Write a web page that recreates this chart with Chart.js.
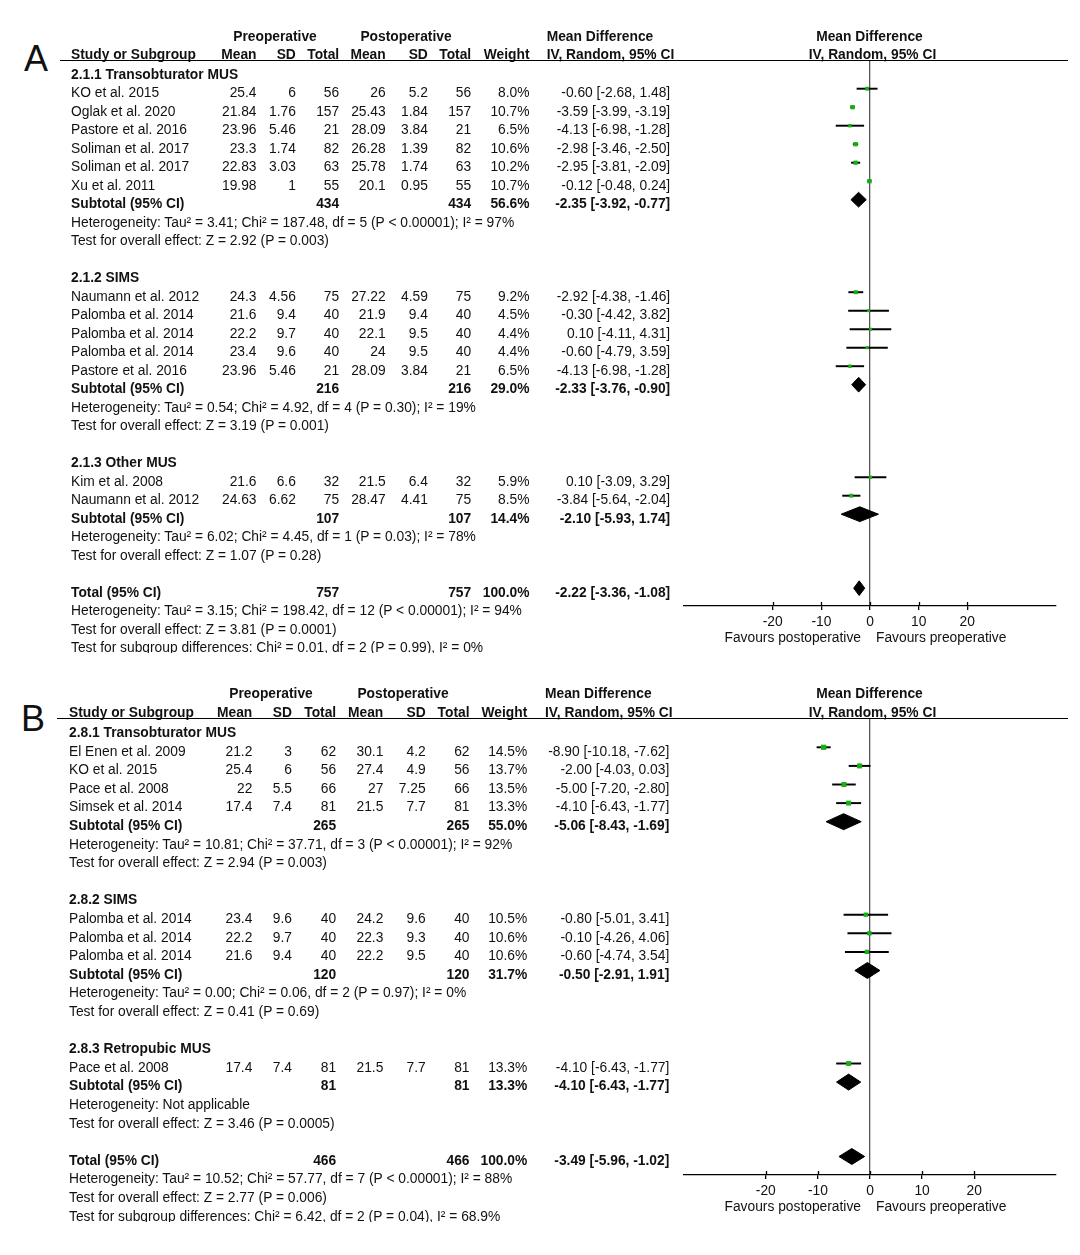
<!DOCTYPE html>
<html>
<head>
<meta charset="utf-8">
<script src="https://cdn.jsdelivr.net/npm/chart.js@4.4.1/dist/chart.umd.min.js"></script>
<style>
  html, body { margin: 0; padding: 0; background: #fff; }
  body { width: 1080px; height: 1255px; position: relative; overflow: hidden;
         font-family: "Liberation Sans", Arial, sans-serif; font-size: 13.8px; color: #111; }
  .t { position: absolute; white-space: nowrap; line-height: 16px; }
  .b { font-weight: bold; }
  .clip { position: absolute; left: 0; width: 1080px; overflow: hidden; }
  .rule { position: absolute; height: 1px; background: #000; }
  .tag { position: absolute; font-size: 36px; line-height: 36px; color: #111; }
  canvas { position: absolute; }
</style>
</head>
<body>
<div class="tag" style="left:24px;top:41px">A</div>
<div class="tag" style="left:21px;top:701px">B</div>
<canvas id="plotA"></canvas>
<canvas id="plotB"></canvas>
<script>
const xTicks = [-20, -10, 0, 10, 20];

// ---- panel A: 2.1.x ----
const groupsA = ['2.1.1 Transobturator MUS', '2.1.2 SIMS', '2.1.3 Other MUS'];
const studyA = ['KO et al. 2015', 'Oglak et al. 2020', 'Pastore et al. 2016', 'Soliman et al. 2017',
  'Soliman et al. 2017', 'Xu et al. 2011', 'Naumann et al. 2012', 'Palomba et al. 2014',
  'Palomba et al. 2014', 'Palomba et al. 2014', 'Pastore et al. 2016', 'Kim et al. 2008', 'Naumann et al. 2012'];
const groupOfA = [0, 0, 0, 0, 0, 0, 1, 1, 1, 1, 1, 2, 2];
const preMeanA = [25.4, 21.84, 23.96, 23.3, 22.83, 19.98, 24.3, 21.6, 22.2, 23.4, 23.96, 21.6, 24.63];
const preSdA = [6, 1.76, 5.46, 1.74, 3.03, 1, 4.56, 9.4, 9.7, 9.6, 5.46, 6.6, 6.62];
const preNA = [56, 157, 21, 82, 63, 55, 75, 40, 40, 40, 21, 32, 75];
const postMeanA = [26, 25.43, 28.09, 26.28, 25.78, 20.1, 27.22, 21.9, 22.1, 24, 28.09, 21.5, 28.47];
const postSdA = [5.2, 1.84, 3.84, 1.39, 1.74, 0.95, 4.59, 9.4, 9.5, 9.5, 3.84, 6.4, 4.41];
const postNA = [56, 157, 21, 82, 63, 55, 75, 40, 40, 40, 21, 32, 75];
const weightA = [8.0, 10.7, 6.5, 10.6, 10.2, 10.7, 9.2, 4.5, 4.4, 4.4, 6.5, 5.9, 8.5];
const mdA = [-0.60, -3.59, -4.13, -2.98, -2.95, -0.12, -2.92, -0.30, 0.10, -0.60, -4.13, 0.10, -3.84];
const loA = [-2.68, -3.99, -6.98, -3.46, -3.81, -0.48, -4.38, -4.42, -4.11, -4.79, -6.98, -3.09, -5.64];
const hiA = [1.48, -3.19, -1.28, -2.50, -2.09, 0.24, -1.46, 3.82, 4.31, 3.59, -1.28, 3.29, -2.04];
const subNA = [434, 216, 107];
const subWeightA = [56.6, 29.0, 14.4];
const subMdA = [-2.35, -2.33, -2.10];
const subLoA = [-3.92, -3.76, -5.93];
const subHiA = [-0.77, -0.90, 1.74];
const subHetA = ['Heterogeneity: Tau² = 3.41; Chi² = 187.48, df = 5 (P < 0.00001); I² = 97%',
  'Heterogeneity: Tau² = 0.54; Chi² = 4.92, df = 4 (P = 0.30); I² = 19%',
  'Heterogeneity: Tau² = 6.02; Chi² = 4.45, df = 1 (P = 0.03); I² = 78%'];
const subTestA = ['Test for overall effect: Z = 2.92 (P = 0.003)',
  'Test for overall effect: Z = 3.19 (P = 0.001)',
  'Test for overall effect: Z = 1.07 (P = 0.28)'];
const totalNA = 757;
const totalCiA = [-2.22, -3.36, -1.08];
const totalNotesA = ['Heterogeneity: Tau² = 3.15; Chi² = 198.42, df = 12 (P < 0.00001); I² = 94%',
  'Test for overall effect: Z = 3.81 (P = 0.0001)',
  'Test for subgroup differences: Chi² = 0.01, df = 2 (P = 0.99), I² = 0%'];

// ---- panel B: 2.8.x ----
const groupsB = ['2.8.1 Transobturator MUS', '2.8.2 SIMS', '2.8.3 Retropubic MUS'];
const studyB = ['El Enen et al. 2009', 'KO et al. 2015', 'Pace et al. 2008', 'Simsek et al. 2014',
  'Palomba et al. 2014', 'Palomba et al. 2014', 'Palomba et al. 2014', 'Pace et al. 2008'];
const groupOfB = [0, 0, 0, 0, 1, 1, 1, 2];
const preMeanB = [21.2, 25.4, 22, 17.4, 23.4, 22.2, 21.6, 17.4];
const preSdB = [3, 6, 5.5, 7.4, 9.6, 9.7, 9.4, 7.4];
const preNB = [62, 56, 66, 81, 40, 40, 40, 81];
const postMeanB = [30.1, 27.4, 27, 21.5, 24.2, 22.3, 22.2, 21.5];
const postSdB = [4.2, 4.9, 7.25, 7.7, 9.6, 9.3, 9.5, 7.7];
const postNB = [62, 56, 66, 81, 40, 40, 40, 81];
const weightB = [14.5, 13.7, 13.5, 13.3, 10.5, 10.6, 10.6, 13.3];
const mdB = [-8.90, -2.00, -5.00, -4.10, -0.80, -0.10, -0.60, -4.10];
const loB = [-10.18, -4.03, -7.20, -6.43, -5.01, -4.26, -4.74, -6.43];
const hiB = [-7.62, 0.03, -2.80, -1.77, 3.41, 4.06, 3.54, -1.77];
const subNB = [265, 120, 81];
const subWeightB = [55.0, 31.7, 13.3];
const subMdB = [-5.06, -0.50, -4.10];
const subLoB = [-8.43, -2.91, -6.43];
const subHiB = [-1.69, 1.91, -1.77];
const subHetB = ['Heterogeneity: Tau² = 10.81; Chi² = 37.71, df = 3 (P < 0.00001); I² = 92%',
  'Heterogeneity: Tau² = 0.00; Chi² = 0.06, df = 2 (P = 0.97); I² = 0%',
  'Heterogeneity: Not applicable'];
const subTestB = ['Test for overall effect: Z = 2.94 (P = 0.003)',
  'Test for overall effect: Z = 0.41 (P = 0.69)',
  'Test for overall effect: Z = 3.46 (P = 0.0005)'];
const totalNB = 466;
const totalCiB = [-3.49, -5.96, -1.02];
const totalNotesB = ['Heterogeneity: Tau² = 10.52; Chi² = 57.77, df = 7 (P < 0.00001); I² = 88%',
  'Test for overall effect: Z = 2.77 (P = 0.006)',
  'Test for subgroup differences: Chi² = 6.42, df = 2 (P = 0.04), I² = 68.9%'];

Chart.defaults.font.family = '"Liberation Sans", Arial, sans-serif';
Chart.defaults.font.size = 13.8;
Chart.defaults.color = '#111';

const GREEN = '#14b014';
const AXIS_H = 34;

// tick marks in RevMan cross the axis line, Chart.js only draws the lower half
const crossTicks = {
  id: 'crossTicks',
  afterDraw(chart) {
    const s = chart.scales.x, ctx = chart.ctx, y = chart.chartArea.bottom;
    ctx.save();
    ctx.strokeStyle = '#000';
    ctx.lineWidth = 1.3;
    s.ticks.forEach(t => {
      const x = Math.round(s.getPixelForValue(t.value)) + 0.5;
      ctx.beginPath(); ctx.moveTo(x, y - 4); ctx.lineTo(x, y); ctx.stroke();
    });
    ctx.restore();
  }
};

const fmt = v => v.toFixed(2);
const ci = (m, l, h) => fmt(m) + ' [' + fmt(l) + ', ' + fmt(h) + ']';
const pct = w => w.toFixed(1) + '%';

function put(parent, top, text, x, y, align, bold) {
  const d = document.createElement('div');
  d.className = 't' + (bold ? ' b' : '');
  d.textContent = text;
  d.style.top = (y - top - 8) + 'px';
  if (align === 'r') d.style.right = (1080 - x) + 'px';
  else if (align === 'c') { d.style.left = (x - 150) + 'px'; d.style.width = '300px'; d.style.textAlign = 'center'; }
  else d.style.left = x + 'px';
  parent.appendChild(d);
}

function buildPanel(p, L) {
  // table rows: heading, studies, subtotal, 2 notes, blank ... then total block
  const rows = [];
  p.groups.forEach((name, g) => {
    rows.push({ kind: 'head', g });
    p.groupOf.forEach((gg, i) => { if (gg === g) rows.push({ kind: 'study', i }); });
    rows.push({ kind: 'sub', g });
    rows.push({ kind: 'note', text: p.subHet[g] });
    rows.push({ kind: 'note', text: p.subTest[g] });
    rows.push({ kind: 'blank' });
  });
  rows.push({ kind: 'total' });
  p.totalNotes.forEach(t => rows.push({ kind: 'note', text: t }));

  const studyRow = [], subRow = [];
  let totalRow = 0;
  rows.forEach((r, k) => {
    if (r.kind === 'study') studyRow[r.i] = k;
    if (r.kind === 'sub') subRow[r.g] = k;
    if (r.kind === 'total') totalRow = k;
  });

  const diamond = (est, lo, hi, row) => ({
    type: 'line',
    data: [{ x: lo, y: row }, { x: est, y: row - L.dh }, { x: hi, y: row }, { x: est, y: row + L.dh }, { x: lo, y: row }],
    borderColor: '#000', backgroundColor: '#000', borderWidth: 1, fill: 'shape',
    pointRadius: 0, tension: 0, order: 2
  });

  const datasets = [
    {
      type: 'scatter',
      data: p.md.map((m, i) => ({ x: m, y: studyRow[i] })),
      pointStyle: 'rect',
      pointRadius: p.weight.map(w => (2 + 0.22 * w) / Math.SQRT2),
      backgroundColor: GREEN, borderWidth: 0, order: 0
    },
    {
      type: 'bar', indexAxis: 'y',
      data: p.lo.map((l, i) => ({ x: [l, p.hi[i]], y: studyRow[i] })),
      backgroundColor: '#000', barThickness: 1.3, order: 1
    }
  ];
  p.subMd.forEach((m, g) => datasets.push(diamond(m, p.subLo[g], p.subHi[g], subRow[g])));
  datasets.push(diamond(p.totalCi[0], p.totalCi[1], p.totalCi[2], totalRow));

  const canvas = document.getElementById(L.canvasId);
  canvas.width = 400;
  canvas.height = L.axisY - L.top + AXIS_H;
  canvas.style.left = '680px';
  canvas.style.top = L.top + 'px';

  const chart = new Chart(canvas, {
    type: 'scatter',
    data: { datasets },
    options: {
      responsive: false,
      animation: false,
      events: [],
      layout: { padding: { left: 2, right: 24, top: L.ruleY - L.top, bottom: 0 } },
      plugins: { legend: { display: false }, tooltip: { enabled: false } },
      scales: {
        x: {
          type: 'linear', min: -L.xHalf, max: L.xHalf,
          afterBuildTicks: s => { s.ticks = xTicks.map(v => ({ value: v })); },
          afterFit: s => { s.height = AXIS_H; },
          border: { display: true, color: '#000', width: 1.3 },
          grid: {
            color: c => (c.tick && c.tick.value === 0) ? '#555' : 'rgba(0,0,0,0)',
            lineWidth: 1.3, tickColor: '#000', tickLength: 4, tickWidth: 1.3
          },
          ticks: { padding: 4, maxRotation: 0, autoSkip: false }
        },
        y: {
          type: 'linear', reverse: true, display: false, offset: false,
          min: (L.ruleY - L.row0) / L.step, max: (L.axisY - L.row0) / L.step,
          grid: { offset: false }
        }
      }
    },
    plugins: [crossTicks]
  });

  // table text, placed on the same y scale as the marks
  const box = document.createElement('div');
  box.className = 'clip';
  box.style.top = L.top + 'px';
  box.style.height = (L.clipY - L.top) + 'px';
  document.body.appendChild(box);

  const yOf = k => L.top + chart.scales.y.getPixelForValue(k) + L.textDy;
  const zero = 680 + chart.scales.x.getPixelForValue(0);
  const C = L.cols;

  // headers
  put(box, L.top, 'Preoperative', L.preHead, L.head1, 'c', true);
  put(box, L.top, 'Postoperative', L.postHead, L.head1, 'c', true);
  put(box, L.top, 'Mean Difference', L.mdHead, L.head1, 'l', true);
  put(box, L.top, 'Mean Difference', zero - 0.5, L.head1, 'c', true);
  put(box, L.top, 'Study or Subgroup', L.nameX, L.head2, 'l', true);
  ['Mean', 'SD', 'Total', 'Mean', 'SD', 'Total', 'Weight'].forEach((h, j) => put(box, L.top, h, C[j], L.head2, 'r', true));
  put(box, L.top, 'IV, Random, 95% CI', L.mdHead, L.head2, 'l', true);
  put(box, L.top, 'IV, Random, 95% CI', zero + 2.5, L.head2, 'c', true);

  const rule = document.createElement('div');
  rule.className = 'rule';
  rule.style.left = L.ruleX + 'px';
  rule.style.width = (1068 - L.ruleX) + 'px';
  rule.style.top = L.ruleY + 'px';
  document.body.appendChild(rule);

  rows.forEach((r, k) => {
    const y = yOf(k);
    if (r.kind === 'head') put(box, L.top, p.groups[r.g], L.nameX, y, 'l', true);
    else if (r.kind === 'note') put(box, L.top, r.text, L.nameX, y, 'l', false);
    else if (r.kind === 'study') {
      const i = r.i;
      put(box, L.top, p.study[i], L.nameX, y, 'l', false);
      [p.preMean[i], p.preSd[i], p.preN[i], p.postMean[i], p.postSd[i], p.postN[i]]
        .forEach((v, j) => put(box, L.top, String(v), C[j], y, 'r', false));
      put(box, L.top, pct(p.weight[i]), C[6], y, 'r', false);
      put(box, L.top, ci(p.md[i], p.lo[i], p.hi[i]), C[7], y, 'r', false);
    } else if (r.kind === 'sub') {
      const g = r.g;
      put(box, L.top, 'Subtotal (95% CI)', L.nameX, y, 'l', true);
      put(box, L.top, String(p.subN[g]), C[2], y, 'r', true);
      put(box, L.top, String(p.subN[g]), C[5], y, 'r', true);
      put(box, L.top, pct(p.subWeight[g]), C[6], y, 'r', true);
      put(box, L.top, ci(p.subMd[g], p.subLo[g], p.subHi[g]), C[7], y, 'r', true);
    } else if (r.kind === 'total') {
      put(box, L.top, 'Total (95% CI)', L.nameX, y, 'l', true);
      put(box, L.top, String(p.totalN), C[2], y, 'r', true);
      put(box, L.top, String(p.totalN), C[5], y, 'r', true);
      put(box, L.top, pct(100), C[6], y, 'r', true);
      put(box, L.top, ci(p.totalCi[0], p.totalCi[1], p.totalCi[2]), C[7], y, 'r', true);
    }
  });

  // favours labels under the axis
  const fy = L.top + chart.chartArea.bottom + 31.7;
  put(document.body, 0, 'Favours postoperative', zero - 9, fy, 'r', false);
  put(document.body, 0, 'Favours preoperative', zero + 6, fy, 'l', false);
}

buildPanel({
  groups: groupsA, study: studyA, groupOf: groupOfA, preMean: preMeanA, preSd: preSdA, preN: preNA,
  postMean: postMeanA, postSd: postSdA, postN: postNA, weight: weightA, md: mdA, lo: loA, hi: hiA,
  subN: subNA, subWeight: subWeightA, subMd: subMdA, subLo: subLoA, subHi: subHiA,
  subHet: subHetA, subTest: subTestA, totalN: totalNA, totalCi: totalCiA, totalNotes: totalNotesA
}, {
  canvasId: 'plotA', top: 0, ruleY: 60, axisY: 606, row0: 70.2, step: 18.5, textDy: 4.3, dh: 0.4,
  xHalf: 38.24, clipY: 653, head1: 37, head2: 55, ruleX: 60, nameX: 71,
  preHead: 275, postHead: 406, mdHead: 546.7,
  cols: [256.5, 295.8, 339.2, 385.7, 427.8, 471.2, 529.5, 670.2]
});

buildPanel({
  groups: groupsB, study: studyB, groupOf: groupOfB, preMean: preMeanB, preSd: preSdB, preN: preNB,
  postMean: postMeanB, postSd: postSdB, postN: postNB, weight: weightB, md: mdB, lo: loB, hi: hiB,
  subN: subNB, subWeight: subWeightB, subMd: subMdB, subLo: subLoB, subHi: subHiB,
  subHet: subHetB, subTest: subTestB, totalN: totalNB, totalCi: totalCiB, totalNotes: totalNotesB
}, {
  canvasId: 'plotB', top: 660, ruleY: 718, axisY: 1175, row0: 728.7, step: 18.6, textDy: 4.3, dh: 0.43,
  xHalf: 35.7, clipY: 1222, head1: 694, head2: 712.5, ruleX: 57, nameX: 69,
  preHead: 271, postHead: 403, mdHead: 545,
  cols: [252.3, 291.9, 336.2, 383.3, 425.7, 469.5, 527.3, 669.3]
});
</script>
</body>
</html>
